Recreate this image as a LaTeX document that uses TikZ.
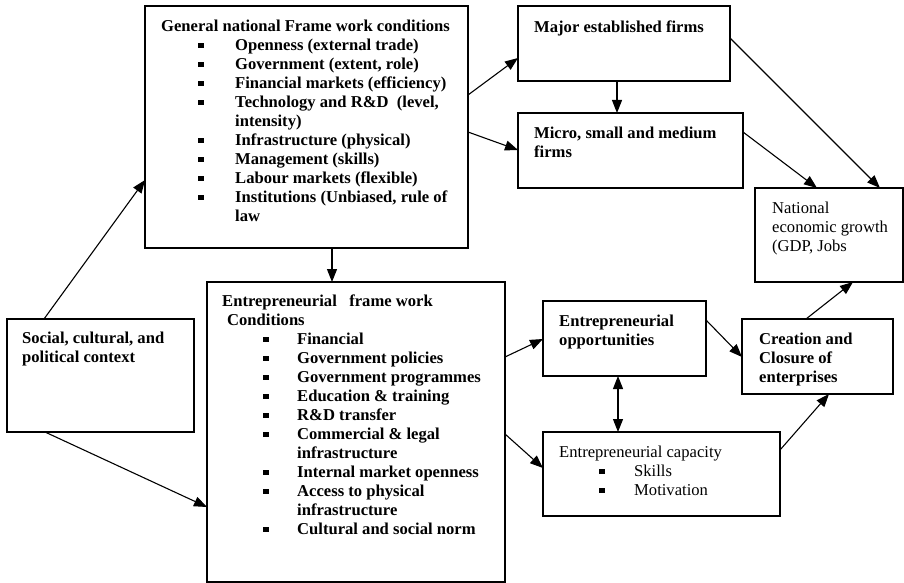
\documentclass[tikz,border=0pt]{standalone}
\usepackage{fontspec}
\setmainfont{Liberation Serif}
\usetikzlibrary{arrows.meta}
\newcommand\sqb{\rule[2.7pt]{5.5pt}{5.5pt}}
\newcommand\bli[3]{\makebox[#1]{}\makebox[#2][l]{\sqb}#3}
\newcommand\cli[2]{\makebox[#1]{}#2}
\tikzset{
  box/.style={draw, line width=1.2pt, inner sep=0pt, outer sep=0pt, anchor=north west},
  txt/.style={anchor=north west, inner sep=0pt, align=left, font=\fontsize{16.6}{19}\selectfont\bfseries},
  rtxt/.style={txt, font=\fontsize{16.6}{19}\selectfont},
  arr/.style={line width=1.1pt, -{Triangle[length=13pt,width=10pt]}},
  darr/.style={line width=1.1pt, {Triangle[length=13pt,width=10pt]}-{Triangle[length=13pt,width=10pt]}}
}
\begin{document}
\begin{tikzpicture}[x=1pt,y=-1pt]
\useasboundingbox (0,0) rectangle (904,583);
% boxes
\node[box, minimum width=323pt, minimum height=242pt] (gnf) at (145,6) {};
\node[box, minimum width=298pt, minimum height=300pt] (efc) at (207,282) {};
\node[box, minimum width=187pt, minimum height=113pt] (soc) at (7,319) {};
\node[box, minimum width=212pt, minimum height=75pt] (maj) at (518,6) {};
\node[box, minimum width=225pt, minimum height=75pt] (mic) at (518,113) {};
\node[box, minimum width=148pt, minimum height=94pt] (nat) at (755,188) {};
\node[box, minimum width=163pt, minimum height=75pt] (opp) at (543,301) {};
\node[box, minimum width=151pt, minimum height=75pt] (cre) at (742,319) {};
\node[box, minimum width=237pt, minimum height=84pt] (cap) at (543,432) {};
% texts
\node[txt] (gnft) at (161,20) {General national Frame work conditions\\
\bli{37pt}{37pt}{Openness (external trade)}\\
\bli{37pt}{37pt}{Government (extent, role)}\\
\bli{37pt}{37pt}{Financial markets (efficiency)}\\
\bli{37pt}{37pt}{Technology and R\&D\ \ (level,}\\
\cli{74pt}{intensity)}\\
\bli{37pt}{37pt}{Infrastructure (physical)}\\
\bli{37pt}{37pt}{Management (skills)}\\
\bli{37pt}{37pt}{Labour markets (flexible)}\\
\bli{37pt}{37pt}{Institutions (Unbiased, rule of}\\
\cli{74pt}{law}};
\node[txt] (efct) at (222,295) {Entrepreneurial\ \ \ frame work\\
\cli{5pt}{Conditions}\\
\bli{41pt}{34pt}{Financial}\\
\bli{41pt}{34pt}{Government policies}\\
\bli{41pt}{34pt}{Government programmes}\\
\bli{41pt}{34pt}{Education \& training}\\
\bli{41pt}{34pt}{R\&D transfer}\\
\bli{41pt}{34pt}{Commercial \& legal}\\
\cli{75pt}{infrastructure}\\
\bli{41pt}{34pt}{Internal market openness}\\
\bli{41pt}{34pt}{Access to physical}\\
\cli{75pt}{infrastructure}\\
\bli{41pt}{34pt}{Cultural and social norm}};
\node[txt] (soct) at (22,332) {Social, cultural, and\\political context};
\node[txt] (majt) at (534,21) {Major established firms};
\node[txt] (mict) at (534,127) {Micro, small and medium\\firms};
\node[rtxt] (natt) at (772,202) {National\\economic growth\\(GDP, Jobs};
\node[txt] (oppt) at (559,315) {Entrepreneurial\\opportunities};
\node[txt] (cret) at (759,333) {Creation and\\Closure of\\enterprises};
\node[rtxt] (capt) at (559,446) {Entrepreneurial capacity\\
\bli{40pt}{35pt}{Skills}\\
\bli{40pt}{35pt}{Motivation}};
% connectors
\draw[arr] ([xshift=37pt]soc.north west) -- ([yshift=-174pt]gnf.north west);
\draw[arr] ([xshift=38pt]soc.south west) -- ([yshift=-225pt]efc.north west);
\draw[arr] ([xshift=187pt]gnf.south west) -- ([xshift=125pt]efc.north west);
\draw[arr] ([yshift=-89pt]gnf.north east) -- ([yshift=-52pt]maj.north west);
\draw[arr] ([yshift=-126pt]gnf.north east) -- ([yshift=-37pt]mic.north west);
\draw[arr] ([xshift=99pt]maj.south west) -- ([xshift=99pt]mic.north west);
\draw[arr] ([yshift=-32pt]maj.north east) -- ([xshift=125pt]nat.north west);
\draw[arr] ([yshift=-19pt]mic.north east) -- ([xshift=62pt]nat.north west);
\draw[arr] ([yshift=-75pt]efc.north east) -- ([yshift=-38pt]opp.north west);
\draw[arr] ([yshift=-152pt]efc.north east) -- ([yshift=-36pt]cap.north west);
\draw[darr] ([xshift=75pt]opp.south west) -- ([xshift=75pt]cap.north west);
\draw[arr] ([yshift=-19pt]opp.north east) -- ([yshift=-38pt]cre.north west);
\draw[arr] ([yshift=-18pt]cap.north east) -- ([xshift=87pt]cre.south west);
\draw[arr] ([xshift=64pt]cre.north west) -- ([xshift=98pt]nat.south west);
\end{tikzpicture}
\end{document}
